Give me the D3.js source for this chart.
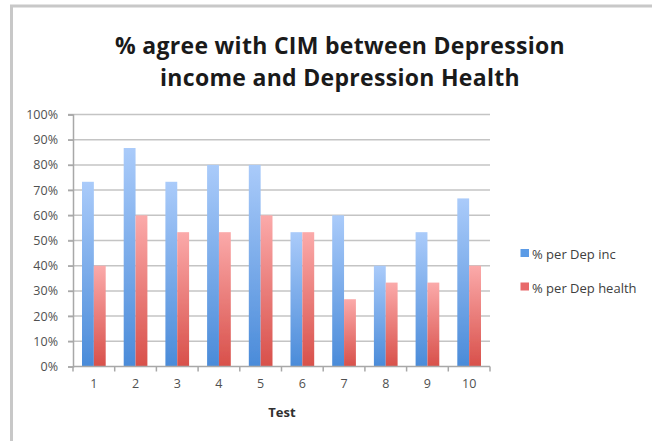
<!DOCTYPE html>
<html>
<head>
<meta charset="utf-8">
<script src="https://cdn.jsdelivr.net/npm/d3@7/dist/d3.min.js"></script>
<style>
  html, body { margin: 0; padding: 0; background: #fff; }
  svg { display: block; }
</style>
</head>
<body>
<svg id="chart" width="652" height="441"></svg>
<script>
// Test numbers along the x axis
const tests = ["1", "2", "3", "4", "5", "6", "7", "8", "9", "10"];
// Share of agreement (%) for each test
const depIncome = [73.3, 86.7, 73.3, 80, 80, 53.3, 60, 40, 53.3, 66.7];
const depHealth = [40, 60, 53.3, 53.3, 60, 53.3, 26.7, 33.3, 33.3, 40];
const seriesNames = ["% per Dep inc", "% per Dep health"];
const yTicks = [0, 10, 20, 30, 40, 50, 60, 70, 80, 90, 100];
const titleLines = ["% agree with CIM between Depression", "income and Depression Health"];
const xTitle = "Test";

const svg = d3.select("#chart");
const font = "'Open Sans', 'DejaVu Sans', sans-serif";

// outer frame (top and left edges visible)
svg.append("rect").attr("x", 0).attr("y", 0).attr("width", 652).attr("height", 441).attr("fill", "#fff");
svg.append("rect").attr("x", 11.5).attr("y", 6).attr("width", 660).attr("height", 460)
  .attr("fill", "none").attr("stroke", "#c8c8c8").attr("stroke-width", 3);

const plot = { left: 73, right: 490, top: 114.5, bottom: 366.5 };

const x = d3.scaleBand().domain(tests).range([plot.left, plot.right]).paddingInner(0).paddingOuter(0);
const y = d3.scaleLinear().domain([0, 100]).range([plot.bottom, plot.top]);

const defs = svg.append("defs");
function grad(id, top, bottom) {
  const g = defs.append("linearGradient").attr("id", id).attr("x1", 0).attr("y1", 0).attr("x2", 0).attr("y2", 1);
  g.append("stop").attr("offset", "0%").attr("stop-color", top);
  g.append("stop").attr("offset", "100%").attr("stop-color", bottom);
}
grad("gBlue", "#aacbfa", "#4a8bd9");
grad("gRed", "#fbaaaa", "#d8504a");
defs.append("filter").attr("id", "soft").append("feGaussianBlur").attr("stdDeviation", 0.4);

// gridlines
svg.append("g").selectAll("line").data(yTicks.filter(d => d > 0)).join("line")
  .attr("x1", plot.left - 5).attr("x2", plot.right)
  .attr("y1", d => y(d)).attr("y2", d => y(d))
  .attr("stroke", "#c4c4c4").attr("stroke-width", 1.5);

// y axis
const yAxis = svg.append("g").attr("transform", `translate(${plot.left},0)`)
  .call(d3.axisLeft(y).tickValues(yTicks).tickFormat(d => d + "%").tickSize(5).tickPadding(10));
yAxis.select(".domain").attr("stroke", "#a8a8a8").attr("stroke-width", 1.5);
yAxis.selectAll(".tick line").attr("stroke", "#a8a8a8").attr("stroke-width", 1.5);
yAxis.selectAll("text").attr("font-family", font).attr("font-size", 12.5).attr("fill", "#505050");

// bars
const sub = d3.scaleBand().domain([0, 1]).range([0, x.bandwidth()]).paddingInner(0).paddingOuter(0.76);
const bars = svg.append("g").attr("filter", "url(#soft)");
[depIncome, depHealth].forEach((vals, si) => {
  bars.append("g").selectAll("rect").data(vals).join("rect")
    .attr("x", (d, i) => x(tests[i]) + sub(si))
    .attr("width", sub.bandwidth())
    .attr("y", d => y(d))
    .attr("height", d => y(0) - y(d))
    .attr("fill", si === 0 ? "url(#gBlue)" : "url(#gRed)");
});

// x axis with ticks at category boundaries
const xg = svg.append("g");
xg.append("line").attr("x1", plot.left).attr("x2", plot.right).attr("y1", plot.bottom).attr("y2", plot.bottom)
  .attr("stroke", "#a8a8a8").attr("stroke-width", 1.5);
xg.selectAll("line.tk").data(tests.concat(["end"])).join("line").attr("class", "tk")
  .attr("x1", (d, i) => plot.left + i * x.bandwidth())
  .attr("x2", (d, i) => plot.left + i * x.bandwidth())
  .attr("y1", plot.bottom).attr("y2", plot.bottom + 5)
  .attr("stroke", "#a8a8a8").attr("stroke-width", 1.5);
xg.selectAll("text").data(tests).join("text")
  .attr("x", d => x(d) + x.bandwidth() / 2).attr("y", 388)
  .attr("text-anchor", "middle").attr("font-family", font).attr("font-size", 12.5).attr("fill", "#505050")
  .text(d => d);

svg.append("text").attr("x", 282).attr("y", 416.5).attr("text-anchor", "middle")
  .attr("font-family", font).attr("font-size", 13).attr("font-weight", "bold").attr("fill", "#303030")
  .text(xTitle);

// two-line title
svg.append("g").selectAll("text").data(titleLines).join("text")
  .attr("x", 340).attr("y", (d, i) => 54 + i * 31.5)
  .attr("text-anchor", "middle").attr("font-family", font).attr("font-size", 23)
  .attr("font-weight", "bold").attr("letter-spacing", 0.3).attr("fill", "#1a1a1a")
  .text(d => d);

// legend
const leg = svg.append("g");
seriesNames.forEach((name, i) => {
  const yy = 253 + i * 33.5;
  leg.append("rect").attr("x", 520.5).attr("y", yy - 4).attr("width", 8.5).attr("height", 8)
    .attr("fill", i === 0 ? "#5b9be6" : "#e8696a");
  leg.append("text").attr("x", 532).attr("y", yy + 6).attr("font-family", font).attr("font-size", 13)
    .attr("fill", "#404040").text(name);
});
</script>
</body>
</html>
